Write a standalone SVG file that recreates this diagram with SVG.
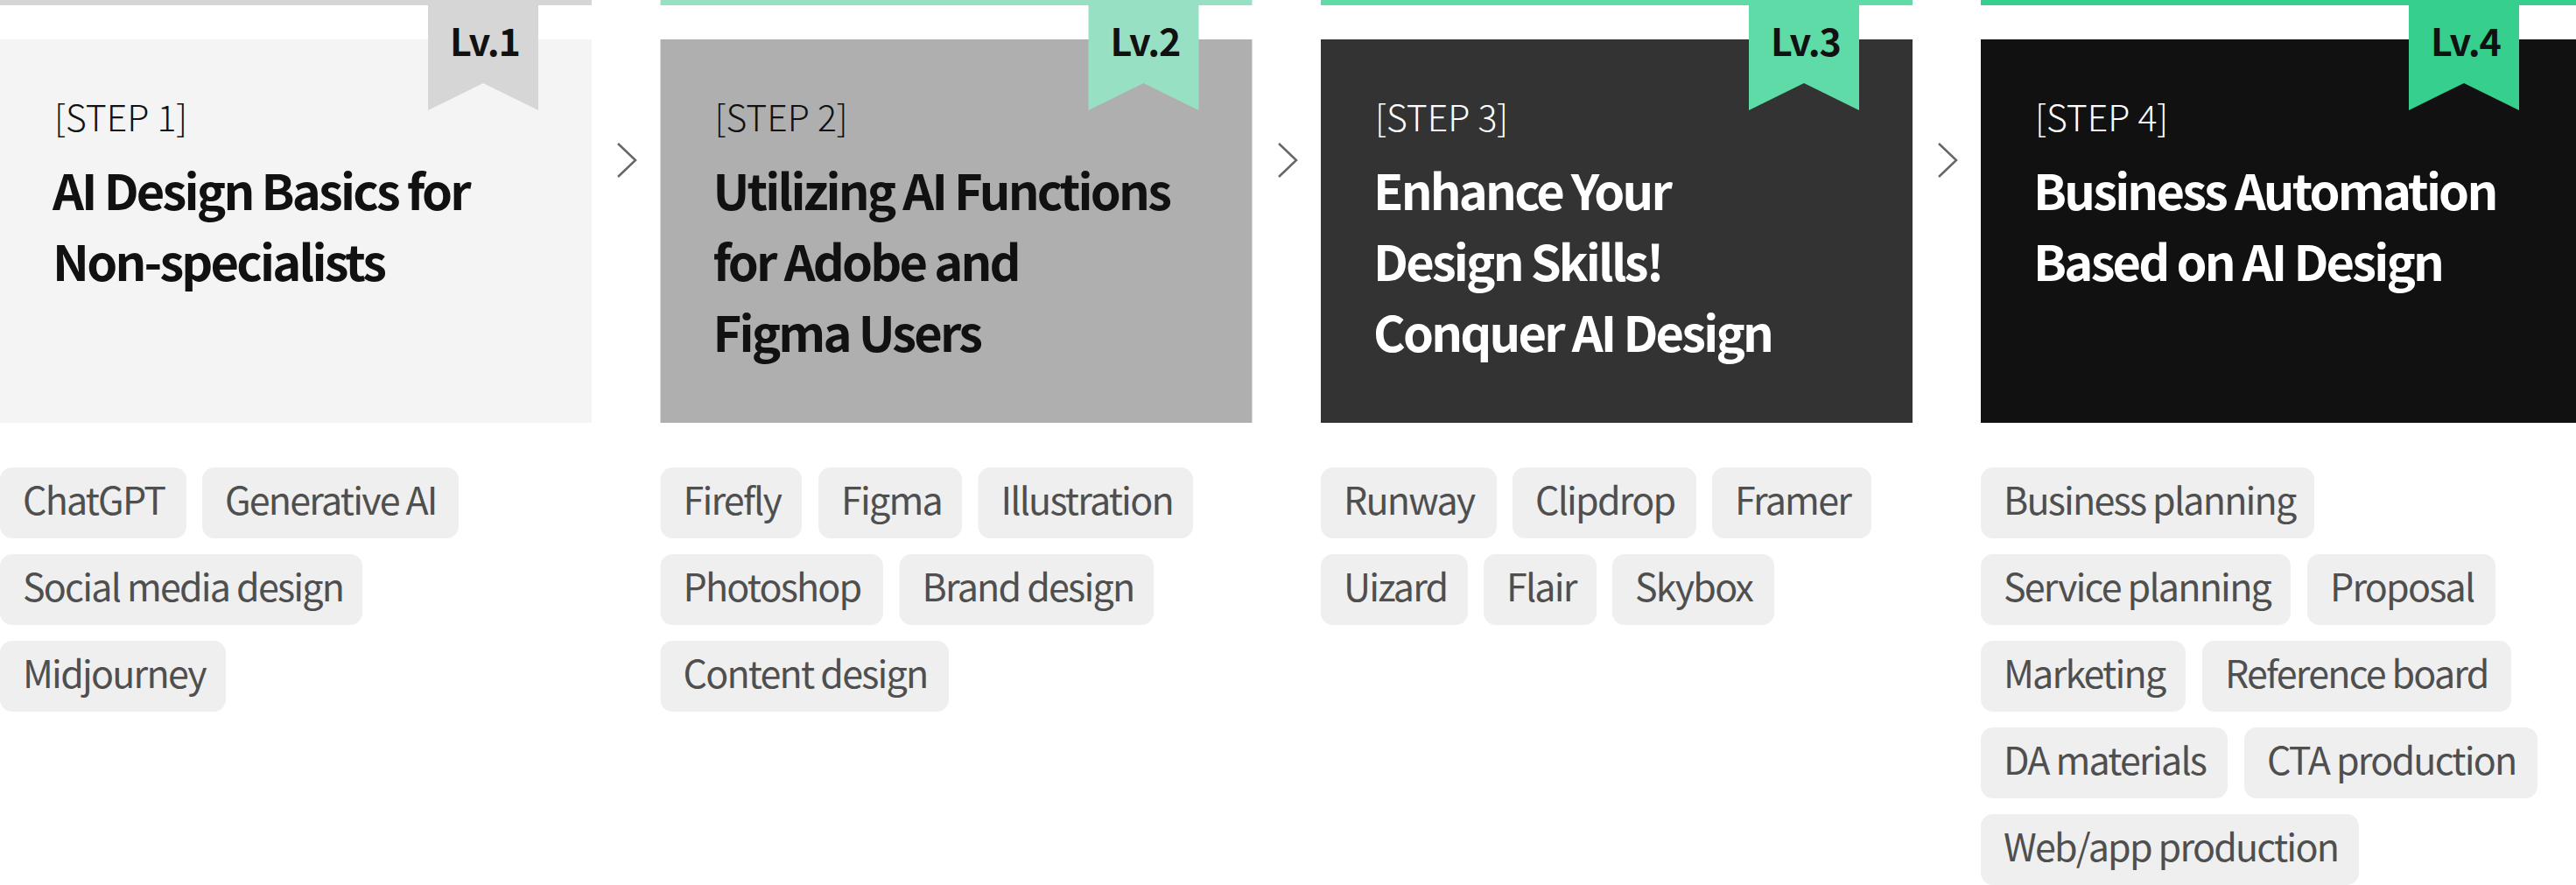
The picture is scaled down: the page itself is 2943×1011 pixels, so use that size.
<svg xmlns="http://www.w3.org/2000/svg" width="2943" height="1011" viewBox="0 0 2943 1011">
<style>
  text { font-family: "Noto Sans CJK KR", "Noto Sans", "Liberation Sans", sans-serif; }
  .step { font-size: 41px; font-weight: 300; }
  .title { font-size: 56px; font-weight: 700; letter-spacing: -2.8px; }
  .lv { font-size: 43px; font-weight: 700; fill: #111111; text-anchor: middle; letter-spacing: -1px; }
  .dark { fill: #111111; }
  .light { fill: #ffffff; }
  .tag rect { fill: #efefef; }
  .tag text { font-size: 43px; font-weight: 400; fill: #4f4f4f; letter-spacing: -1.8px; }
  .chev { fill: none; stroke: #666666; stroke-width: 2.5; }
</style>

<g id="connectors">
  <polyline class="chev" points="706,164 726,183 706,202"/>
  <polyline class="chev" points="1461,164 1481,183 1461,202"/>
  <polyline class="chev" points="2215,164 2235,183 2215,202"/>
</g>

<g id="step1">
  <rect x="0" y="0" width="676" height="6" fill="#d6d6d6"/>
  <rect x="0" y="45" width="676" height="438" fill="#f4f4f4"/>
  <polygon points="489,0 615,0 615,126 552,95 489,126" fill="#d6d6d6"/>
  <text class="lv" x="554" y="64">Lv.1</text>
  <text class="step dark" x="62" y="150">[STEP 1]</text>
  <text class="title dark" x="60" y="240">AI Design Basics for</text>
  <text class="title dark" x="60" y="321">Non-specialists</text>
</g>

<g id="step2">
  <rect x="754.5" y="0" width="676" height="6" fill="#98e0c4"/>
  <rect x="754.5" y="45" width="676" height="438" fill="#afafaf"/>
  <polygon points="1243.5,0 1369.5,0 1369.5,126 1306.5,95 1243.5,126" fill="#98e0c4"/>
  <text class="lv" x="1308.5" y="64">Lv.2</text>
  <text class="step dark" x="816.5" y="150">[STEP 2]</text>
  <text class="title dark" x="814.5" y="240">Utilizing AI Functions</text>
  <text class="title dark" x="814.5" y="321">for Adobe and</text>
  <text class="title dark" x="814.5" y="402">Figma Users</text>
</g>

<g id="step3">
  <rect x="1509" y="0" width="676" height="6" fill="#5fdba8"/>
  <rect x="1509" y="45" width="676" height="438" fill="#333333"/>
  <polygon points="1998,0 2124,0 2124,126 2061,95 1998,126" fill="#5fdba8"/>
  <text class="lv" x="2063" y="64">Lv.3</text>
  <text class="step light" x="1571" y="150">[STEP 3]</text>
  <text class="title light" x="1569" y="240">Enhance Your</text>
  <text class="title light" x="1569" y="321">Design Skills!</text>
  <text class="title light" x="1569" y="402">Conquer AI Design</text>
</g>

<g id="step4">
  <rect x="2263" y="0" width="680" height="6" fill="#36cf8e"/>
  <rect x="2263" y="45" width="680" height="438" fill="#111111"/>
  <polygon points="2752,0 2878,0 2878,126 2815,95 2752,126" fill="#36cf8e"/>
  <text class="lv" x="2817" y="64">Lv.4</text>
  <text class="step light" x="2325" y="150">[STEP 4]</text>
  <text class="title light" x="2323" y="240">Business Automation</text>
  <text class="title light" x="2323" y="321">Based on AI Design</text>
</g>

<g id="tags1" class="tag">
  <rect x="0" y="534" width="213" height="81" rx="14"/><text x="26" y="588">ChatGPT</text>
  <rect x="231" y="534" width="293" height="81" rx="14"/><text x="257" y="588">Generative AI</text>
  <rect x="0" y="633" width="414" height="81" rx="14"/><text x="26" y="687">Social media design</text>
  <rect x="0" y="732" width="258" height="81" rx="14"/><text x="26" y="786">Midjourney</text>
</g>

<g id="tags2" class="tag">
  <rect x="754.5" y="534" width="161.5" height="81" rx="14"/><text x="780.5" y="588">Firefly</text>
  <rect x="935" y="534" width="164" height="81" rx="14"/><text x="961" y="588">Figma</text>
  <rect x="1117.5" y="534" width="245.5" height="81" rx="14"/><text x="1143.5" y="588">Illustration</text>
  <rect x="754.5" y="633" width="254.5" height="81" rx="14"/><text x="780.5" y="687">Photoshop</text>
  <rect x="1027.5" y="633" width="290.5" height="81" rx="14"/><text x="1053.5" y="687">Brand design</text>
  <rect x="754.5" y="732" width="329.5" height="81" rx="14"/><text x="780.5" y="786">Content design</text>
</g>

<g id="tags3" class="tag">
  <rect x="1509" y="534" width="201" height="81" rx="14"/><text x="1535" y="588">Runway</text>
  <rect x="1728" y="534" width="210" height="81" rx="14"/><text x="1754" y="588">Clipdrop</text>
  <rect x="1956" y="534" width="182" height="81" rx="14"/><text x="1982" y="588">Framer</text>
  <rect x="1509" y="633" width="168" height="81" rx="14"/><text x="1535" y="687">Uizard</text>
  <rect x="1695" y="633" width="129" height="81" rx="14"/><text x="1721" y="687">Flair</text>
  <rect x="1842" y="633" width="185" height="81" rx="14"/><text x="1868" y="687">Skybox</text>
</g>

<g id="tags4" class="tag">
  <rect x="2263" y="534" width="381" height="81" rx="14"/><text x="2289" y="588">Business planning</text>
  <rect x="2263" y="633" width="354" height="81" rx="14"/><text x="2289" y="687">Service planning</text>
  <rect x="2636" y="633" width="215" height="81" rx="14"/><text x="2662" y="687">Proposal</text>
  <rect x="2263" y="732" width="234" height="81" rx="14"/><text x="2289" y="786">Marketing</text>
  <rect x="2516" y="732" width="353" height="81" rx="14"/><text x="2542" y="786">Reference board</text>
  <rect x="2263" y="831" width="282" height="81" rx="14"/><text x="2289" y="885">DA materials</text>
  <rect x="2564" y="831" width="335" height="81" rx="14"/><text x="2590" y="885">CTA production</text>
  <rect x="2263" y="930" width="432" height="81" rx="14"/><text x="2289" y="984">Web/app production</text>
</g>
</svg>
